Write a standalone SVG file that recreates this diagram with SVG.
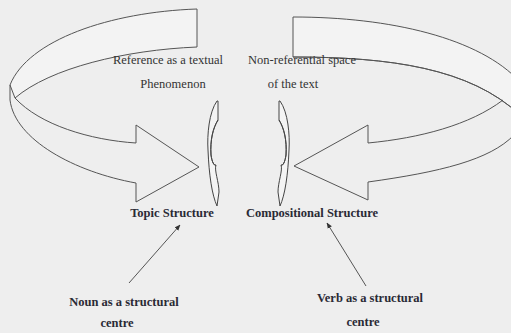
<svg xmlns="http://www.w3.org/2000/svg" width="511" height="333" viewBox="0 0 511 333">
<defs>
<style>
.bg{fill:#eeeeee}
.rib{fill:none;stroke:#555;stroke-width:1;stroke-linejoin:miter}
.band{fill:#f3f3f3;stroke:#555;stroke-width:1}
.lens{fill:#f4f4f4;stroke:#444;stroke-width:1}
.ln{fill:none;stroke:#444;stroke-width:1}
.t{font-family:"Liberation Serif","Times New Roman",serif;font-size:12.5px;fill:#333;text-anchor:middle}
.b{font-family:"Liberation Serif","Times New Roman",serif;font-size:12.5px;font-weight:bold;fill:#2a2a35;text-anchor:middle}
.con{fill:none;stroke:#555;stroke-width:1}
</style>
<marker id="ah" viewBox="0 0 10 10" refX="9" refY="5" markerWidth="6" markerHeight="6" orient="auto" markerUnits="userSpaceOnUse">
<path d="M0,1 L10,5 L0,9 Z" fill="#333"/>
</marker>
<g id="lensShape">
<path class="lens" d="M217,101 L218,101 L218,120 C213,128 210,140 211,155 C212,162 214,166 216,165 C214,170 219,182 219,192 L217,206 C212,195 209,175 208,150 C207,135 209,112 217,101 Z"/>
<path class="ln" d="M218,120 C213,128 210,140 211,155 C212,162 214,166 216,165"/>
</g>
</defs>
<rect class="bg" x="0" y="0" width="511" height="333"/>

<g id="left-ribbon">
<path class="band" d="M10,85 C28,40 110,12 197,9 L197,47 C125,50 50,68 15,98 Z"/>
<path class="rib" d="M10,85 L10,100 C15,140 75,172 136,183 L136,202 L199,167 L136,125 L136,143 C90,140 40,125 15,98"/>
</g>

<g id="right-ribbon">
<path class="band" d="M293,17 C390,17 480,38 520,82 L520,115 C470,68 390,57 293,57 Z"/>
<path class="rib" d="M293,57 C390,57 470,68 520,115"/>
<path class="rib" d="M503,100 C470,125 420,138 368,143 L368,125 L294,166 L368,200 L368,182 C440,172 490,160 514,135"/>
</g>

<g id="lens-left">
<use href="#lensShape"/>
</g>
<g id="lens-right">
<use href="#lensShape" transform="translate(497,0) scale(-1,1)"/>
</g>

<g id="node-reference">
<text class="t" x="168" y="64">Reference as a textual</text>
<text class="t" x="173" y="88">Phenomenon</text>
</g>
<g id="node-nonref">
<text class="t" x="302" y="64">Non-referential space</text>
<text class="t" x="293" y="88">of the text</text>
</g>
<g id="node-topic">
<text class="b" x="172" y="217">Topic Structure</text>
</g>
<g id="node-compositional">
<text class="b" x="312" y="217">Compositional Structure</text>
</g>
<g id="node-noun">
<text class="b" x="124" y="306">Noun as a structural</text>
<text class="b" x="117" y="327">centre</text>
</g>
<g id="node-verb">
<text class="b" x="370" y="302">Verb as a structural</text>
<text class="b" x="363" y="326">centre</text>
</g>

<g id="connectors">
<line class="con" x1="129" y1="283" x2="180" y2="225" marker-end="url(#ah)"/>
<line class="con" x1="366" y1="286" x2="327" y2="223" marker-end="url(#ah)"/>
</g>
</svg>
